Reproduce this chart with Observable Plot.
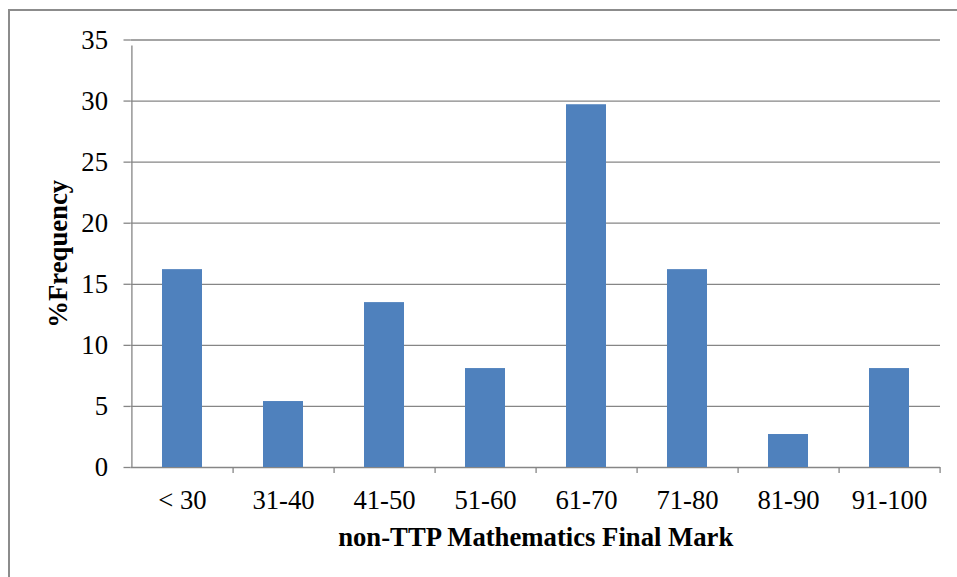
<!DOCTYPE html>
<html>
<head>
<meta charset="utf-8">
<script src="https://cdn.jsdelivr.net/npm/d3@7"></script>
<script src="https://cdn.jsdelivr.net/npm/@observablehq/plot@0.6"></script>
<style>
  html, body { margin: 0; padding: 0; background: #fff; }
  #wrap { position: relative; width: 957px; height: 577px; overflow: hidden; }
  #border { position: absolute; left: 8px; top: 9px; width: 1000px; height: 700px;
            border-left: 2px solid #8c8c8c; border-top: 2px solid #8c8c8c; pointer-events: none; }
</style>
</head>
<body>
<div id="wrap"><div id="border"></div></div>
<script>
const categories = ["< 30", "31-40", "41-50", "51-60", "61-70", "71-80", "81-90", "91-100"];
const frequency = [16.2, 5.4, 13.5, 8.1, 29.7, 16.2, 2.7, 8.1];
const yTicks = [0, 5, 10, 15, 20, 25, 30, 35];
const xTitle = "non-TTP Mathematics Final Mark";
const yTitle = "%Frequency";

const data = categories.map((c, i) => ({cat: c, value: frequency[i]}));

const W = 957, H = 577;
const mL = 130.5, mR = 17, mT = 39.5, mB = 110;
const step = (W - mL - mR) / categories.length;
const grid = "#868686";
const font = "Liberation Serif, DejaVu Serif, serif";
const fs = 26.7;

const chart = Plot.plot({
  width: W,
  height: H,
  marginLeft: mL,
  marginRight: mR,
  marginTop: mT,
  marginBottom: mB,
  style: {fontSize: fs + "px", color: "#000", background: "transparent", fontFamily: font},
  x: {domain: categories, paddingInner: 0.6, paddingOuter: 0.3},
  y: {domain: [0, 35], nice: false},
  marks: [
    Plot.ruleY(yTicks, {stroke: grid, strokeWidth: 1.3}),
    Plot.barY(data, {x: "cat", y: "value", fill: "#4f81bd"}),
    Plot.ruleX(categories.slice(0, 1), {x: d => d, dx: -step / 2, y1: 0, y2: 35, stroke: grid, strokeWidth: 1.3, insetBottom: -6}),
    Plot.ruleX(categories, {x: d => d, dx: step / 2, y1: 0, y2: 0, stroke: grid, strokeWidth: 1.3, insetBottom: -6}),
    Plot.axisY(yTicks, {tickSize: 7, tickPadding: 16, stroke: grid, strokeWidth: 1.3, label: null, fontSize: fs, fontFamily: font, fill: "#000"}),
    Plot.axisX({tickSize: 0, tickPadding: 23, label: null, fontSize: fs, fontFamily: font, fill: "#000"}),
    Plot.text([xTitle], {text: d => d, frameAnchor: "bottom", textAnchor: "middle", lineAnchor: "middle", dy: 69.5, fontWeight: "bold", fontSize: fs, fontFamily: font, fill: "#000"}),
    Plot.text([yTitle], {text: d => d, frameAnchor: "left", textAnchor: "middle", lineAnchor: "middle", dx: -72.5, rotate: -90, fontWeight: "bold", fontSize: fs, fontFamily: font, fill: "#000"})
  ]
});
document.getElementById("wrap").prepend(chart);
</script>
</body>
</html>
